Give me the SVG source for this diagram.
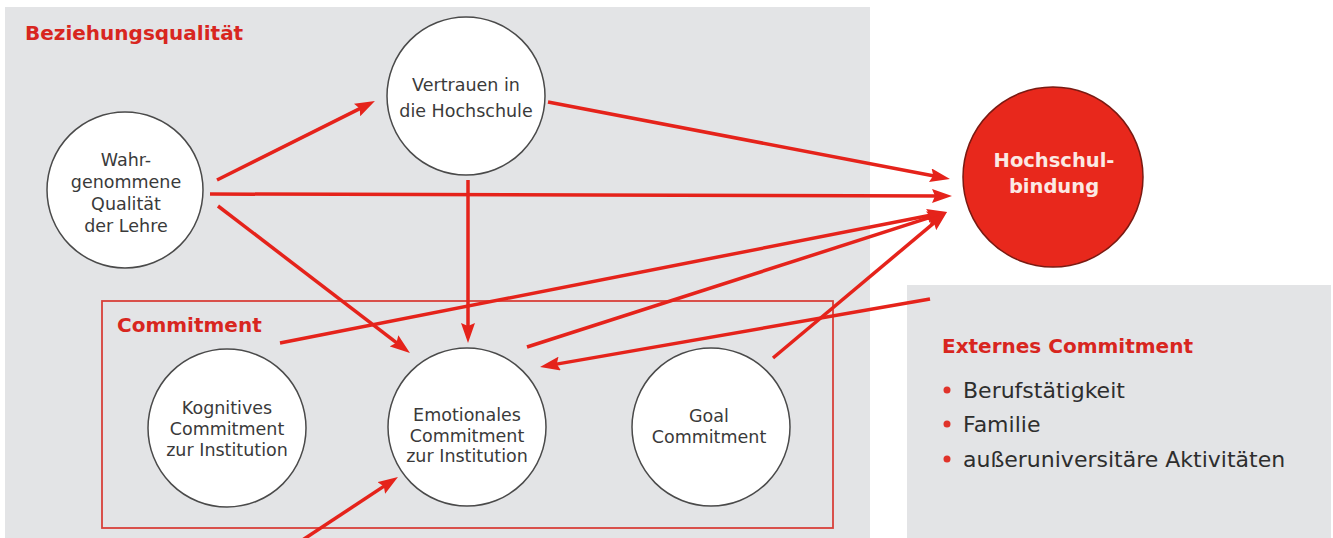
<svg xmlns="http://www.w3.org/2000/svg" width="1333" height="538" viewBox="0 0 1333 538">
  <style>
    .panel { fill: #e3e4e6; }
    .node { fill: #ffffff; stroke: #4a4a4a; stroke-width: 1.5; }
    .ntext { font-family: "DejaVu Sans", "Liberation Sans", sans-serif; font-size: 17.5px; fill: #3a3a3a; text-anchor: middle; }
    .title { font-family: "DejaVu Sans", "Liberation Sans", sans-serif; font-size: 20px; font-weight: bold; fill: #d8261f; }
    .item { font-family: "DejaVu Sans", "Liberation Sans", sans-serif; font-size: 22px; fill: #2e2e2e; }
    .bullet { fill: #e0332a; }
    .conn { stroke: #e5231b; stroke-width: 3.5; fill: none; marker-end: url(#arrow); }
  </style>
  <defs>
    <marker id="arrow" markerUnits="userSpaceOnUse" markerWidth="20" markerHeight="14" refX="12" refY="7" orient="auto">
      <path d="M0,0 L20,7 L0,14 L3,7 z" fill="#e5231b"/>
    </marker>
  </defs>

  <rect width="1333" height="538" fill="#ffffff"/>
  <rect class="panel" x="5" y="7" width="865" height="531"/>
  <rect class="panel" x="907" y="285" width="424" height="253" fill="#e5e6e8"/>

  <g id="beziehungsqualitaet-label">
    <text class="title" x="25" y="40">Beziehungsqualität</text>
  </g>

  <g id="commitment-group">
    <rect x="102" y="301" width="731" height="227" fill="none" stroke="#d8403a" stroke-width="1.8"/>
    <text class="title" x="117" y="332">Commitment</text>
  </g>

  <g id="node-qualitaet">
    <circle class="node" cx="125" cy="190" r="78"/>
    <text class="ntext" x="126" y="166">Wahr-</text>
    <text class="ntext" x="126" y="188">genommene</text>
    <text class="ntext" x="126" y="210">Qualität</text>
    <text class="ntext" x="126" y="232">der Lehre</text>
  </g>

  <g id="node-vertrauen">
    <circle class="node" cx="466" cy="96" r="79"/>
    <text class="ntext" x="466" y="91">Vertrauen in</text>
    <text class="ntext" x="466" y="117">die Hochschule</text>
  </g>

  <g id="node-hochschulbindung">
    <circle cx="1053" cy="177" r="90" fill="#e8281c" stroke="#7a1a12" stroke-width="1.5"/>
    <text x="1054" y="167" text-anchor="middle" font-family="DejaVu Sans, Liberation Sans, sans-serif" font-size="19.5" font-weight="bold" fill="#fbe9e4">Hochschul-</text>
    <text x="1054" y="193" text-anchor="middle" font-family="DejaVu Sans, Liberation Sans, sans-serif" font-size="19.5" font-weight="bold" fill="#fbe9e4">bindung</text>
  </g>

  <g id="node-kognitiv">
    <circle class="node" cx="227" cy="428" r="79"/>
    <text class="ntext" x="227" y="414">Kognitives</text>
    <text class="ntext" x="227" y="435">Commitment</text>
    <text class="ntext" x="227" y="456">zur Institution</text>
  </g>

  <g id="node-emotional">
    <circle class="node" cx="467" cy="427" r="79"/>
    <text class="ntext" x="467" y="421">Emotionales</text>
    <text class="ntext" x="467" y="442">Commitment</text>
    <text class="ntext" x="467" y="462">zur Institution</text>
  </g>

  <g id="node-goal">
    <circle class="node" cx="711" cy="427" r="79"/>
    <text class="ntext" x="709" y="422">Goal</text>
    <text class="ntext" x="709" y="443">Commitment</text>
  </g>

  <g id="externes-commitment">
    <text class="title" x="942" y="353">Externes Commitment</text>
    <circle class="bullet" cx="947" cy="390" r="3.5"/>
    <text class="item" x="963" y="398">Berufstätigkeit</text>
    <circle class="bullet" cx="947" cy="424" r="3.5"/>
    <text class="item" x="963" y="432">Familie</text>
    <circle class="bullet" cx="947" cy="459" r="3.5"/>
    <text class="item" x="963" y="467">außeruniversitäre Aktivitäten</text>
  </g>

  <g id="connectors">
    <line class="conn" x1="217" y1="180" x2="367.8" y2="104.6"/>
    <line class="conn" x1="210" y1="194" x2="944" y2="196"/>
    <line class="conn" x1="218" y1="206" x2="403.6" y2="348.1"/>
    <line class="conn" x1="548" y1="102" x2="942.1" y2="177.5"/>
    <line class="conn" x1="468" y1="180" x2="468" y2="335"/>
    <line class="conn" x1="280" y1="343" x2="939.2" y2="213.5"/>
    <line class="conn" x1="527" y1="347" x2="939.4" y2="214.4"/>
    <line class="conn" x1="773" y1="358" x2="940.9" y2="217.1"/>
    <line class="conn" x1="930" y1="299" x2="547.9" y2="365.6"/>
    <line class="conn" x1="301" y1="541" x2="391.3" y2="481.4"/>
  </g>
</svg>
